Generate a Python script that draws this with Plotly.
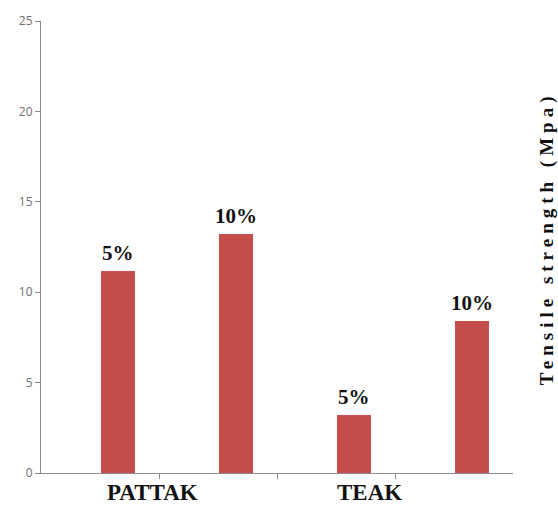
import plotly.graph_objects as go

groups = ["PATTAK", "PATTAK", "TEAK", "TEAK"]
concentrations = ["5%", "10%", "5%", "10%"]
values = [11.2, 13.2, 3.2, 8.4]
y_ticks = [0, 5, 10, 15, 20, 25]
group_labels = ["PATTAK", "TEAK"]
y_title = "Tensile strength (Mpa)"

bar_color = "#C44E4C"
axis_color = "#8C8C8C"
serif = "Liberation Serif"

xs = list(range(len(values)))

fig = go.Figure()
fig.add_trace(go.Bar(
    x=xs, y=values, width=0.29,
    marker=dict(color=bar_color, line=dict(width=0)),
    hoverinfo="skip",
))

annotations = []
for x, v, c in zip(xs, values, concentrations):
    annotations.append(dict(
        x=x, y=v, xref="x", yref="y", text=f"<b>{c}</b>", showarrow=False,
        yanchor="bottom", yshift=4,
        font=dict(family=serif, size=21, color="#111111"),
    ))

label_x = {"PATTAK": 0.29, "TEAK": 2.135}
for g in group_labels:
    annotations.append(dict(
        x=label_x[g], y=0, xref="x", yref="paper", text=f"<b>{g}</b>",
        showarrow=False, yanchor="top", yshift=-5,
        font=dict(family=serif, size=23, color="#111111"),
    ))

annotations.append(dict(
    x=1.1, y=0.52, xref="paper", yref="paper",
    text=f"<b><span style='letter-spacing:5px'>{y_title}</span></b>",
    showarrow=False, textangle=-90,
    font=dict(family=serif, size=19, color="#111111"),
))

fig.update_layout(
    width=558, height=505,
    margin=dict(l=41, r=45, t=19, b=32),
    paper_bgcolor="white", plot_bgcolor="white",
    showlegend=False,
    annotations=annotations,
    bargap=0,
)
fig.update_xaxes(
    range=[-0.653, 3.347],
    tickvals=[x + 0.35 for x in xs], ticktext=["" for _ in xs],
    ticks="outside", ticklen=5, tickcolor=axis_color,
    showline=True, linecolor=axis_color, linewidth=1,
    showgrid=False, zeroline=False, fixedrange=True,
)
fig.update_yaxes(
    range=[0, 25], tickvals=y_ticks,
    ticks="outside", ticklen=5, tickcolor=axis_color,
    showline=True, linecolor=axis_color, linewidth=1,
    showgrid=False, zeroline=False,
    tickfont=dict(family="Open Sans, sans-serif", size=12, color="#707070"),
    fixedrange=True,
)

fig.write_html("out.html")
